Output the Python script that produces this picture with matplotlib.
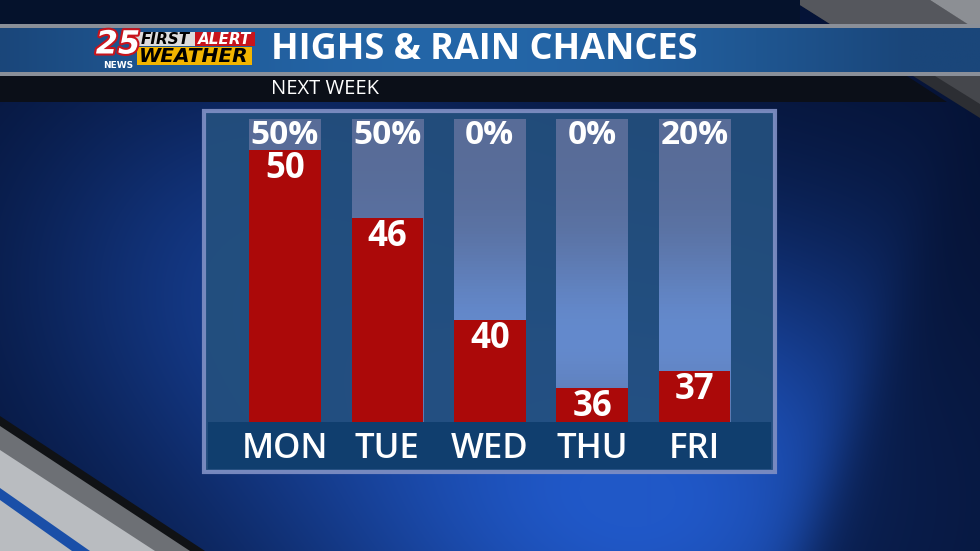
import matplotlib
matplotlib.use("Agg")
import matplotlib.pyplot as plt
import matplotlib.patches as mpatches
import matplotlib.patheffects as pe
import numpy as np

# chart data
days = ["MON", "TUE", "WED", "THU", "FRI"]
highs = [50, 46, 40, 36, 37]
rain = ["50%", "50%", "0%", "0%", "20%"]

title = "HIGHS & RAIN CHANCES"
subtitle = "NEXT WEEK"

W, H = 980, 551
fig = plt.figure(figsize=(W / 100, H / 100), dpi=100)

# ---- background layer in pixel coords ----
bg = fig.add_axes([0, 0, 1, 1])
bg.set_xlim(0, W)
bg.set_ylim(H, 0)
bg.axis("off")

yy, xx = np.mgrid[0:H, 0:W]
glow = np.exp(-((xx - 640) / 360.0) ** 2 - ((yy - 500) / 260.0) ** 2)
glow += 0.45 * np.exp(-((xx - 250) / 260.0) ** 2 - ((yy - 260) / 220.0) ** 2)
# dark wedge on the right
edge = 1 / (1 + np.exp(-((xx + 0.35 * yy) - 1000) / 18.0))
glow = glow * (1 - 0.75 * edge)
glow = np.clip(glow, 0, 1)
dark = np.array([5, 18, 52]) / 255
bright = np.array([32, 88, 200]) / 255
img = dark[None, None, :] + glow[:, :, None] * (bright - dark)[None, None, :]
bg.imshow(img, extent=(0, W, H, 0), aspect="auto", zorder=0)

# top right grey swoosh (diagonal bands)
bg.add_patch(mpatches.Polygon([(792, 0), (980, 0), (980, 118)],
                              closed=True, fc="#2c2e33", ec="none", zorder=1))
bg.add_patch(mpatches.Polygon([(792, 0), (930, 0), (968, 24), (830, 24)],
                              closed=True, fc="#55575d", ec="none", zorder=1))
bg.add_patch(mpatches.Polygon([(930, 0), (980, 0), (980, 32)],
                              closed=True, fc="#8c8f94", ec="none", zorder=1))
bg.add_patch(mpatches.Polygon([(935, 76), (980, 76), (980, 104)],
                              closed=True, fc="#45474c", ec="none", zorder=3))

# bottom left grey swoosh
bg.add_patch(mpatches.Polygon([(0, 416), (0, 551), (205, 551)],
                              closed=True, fc="#101215", ec="none", zorder=1))
bg.add_patch(mpatches.Polygon([(0, 426), (0, 551), (190, 551)],
                              closed=True, fc="#6d7075", ec="none", zorder=1))
bg.add_patch(mpatches.Polygon([(0, 450), (0, 551), (155, 551)],
                              closed=True, fc="#b9bcc0", ec="none", zorder=1))
bg.add_patch(mpatches.Polygon([(0, 488), (0, 500), (72, 551), (90, 551)],
                              closed=True, fc="#1a4fa8", ec="none", zorder=1))

# header bands
bg.add_patch(mpatches.Rectangle((0, 0), 800, 24, fc="#05122c", ec="none", zorder=2))
bg.add_patch(mpatches.Rectangle((0, 24), W, 4, fc="#8a8f98", ec="none", zorder=2))
hdr = np.linspace(0, 1, 400)
c_l = np.array([26, 70, 122]) / 255
c_m = np.array([36, 102, 168]) / 255
hdr_col = c_l + np.sin(np.pi * np.clip(hdr * 1.08, 0, 1))[:, None] * (c_m - c_l)[None, :]
bg.imshow(hdr_col[None, :, :], extent=(0, W, 72, 28), aspect="auto", zorder=2)
bg.add_patch(mpatches.Rectangle((0, 72), W, 4, fc="#8a8f98", ec="none", zorder=3))
bg.add_patch(mpatches.Polygon([(0, 76), (907, 76), (947, 102), (0, 102)],
                              closed=True, fc="#0b0f18", ec="none", zorder=2))

# logo
bg.add_patch(mpatches.Rectangle((135, 32), 60, 14, fc="#dcdcdc", ec="none", zorder=4))
bg.add_patch(mpatches.Rectangle((195, 32), 60, 14, fc="#c8141c", ec="none", zorder=4))
bg.add_patch(mpatches.Rectangle((137, 47), 115, 18, fc="#f2b400", ec="none", zorder=4))
bg.text(118, 45, "25", color="white", fontsize=23, fontweight="bold", style="italic",
        family="DejaVu Sans", ha="center", va="center", zorder=5,
        path_effects=[pe.withStroke(linewidth=3, foreground="#c8141c")])
bg.text(118, 66, "NEWS", color="white", fontsize=6.5, fontweight="bold", family="DejaVu Sans",
        ha="center", va="center", zorder=5)
bg.text(165, 39.5, "FIRST", color="black", fontsize=11, fontweight="bold", style="italic",
        family="DejaVu Sans", ha="center", va="center", zorder=5)
bg.text(225, 39.5, "ALERT", color="white", fontsize=11, fontweight="bold", style="italic",
        family="DejaVu Sans", ha="center", va="center", zorder=5)
bg.text(194, 56.5, "WEATHER", color="black", fontsize=14.5, fontweight="bold", style="italic",
        family="DejaVu Sans", ha="center", va="center", zorder=5)

bg.text(271, 50, title, color="white", fontsize=26, fontweight="bold", family="Open Sans",
        ha="left", va="center", zorder=5)
bg.text(271, 89, subtitle, color="white", fontsize=14.5, family="Open Sans",
        ha="left", va="center", zorder=5)

# panel frame
bg.add_patch(mpatches.Rectangle((204, 111), 571, 361, fc="#24507e", ec="#7f8fc4", lw=3,
                                alpha=0.92, zorder=4))

# ---- bar chart axes ----
ax = fig.add_axes([203 / W, (H - 472) / H, 572 / W, 362 / H])
ax.set_xlim(-0.80, 4.785)
ax.set_ylim(31.06, 52.35)
ax.axis("off")
ax.patch.set_alpha(0)

base = 34
top = 51.8
x = np.arange(len(days))

# label strip
ax.add_patch(mpatches.Rectangle((-0.752, 31.24), 5.498, base - 31.24, fc="#103e6e", ec="none", zorder=1))

# background columns with a soft vertical gradient
col = np.linspace(0, 1, 100)[:, None]
c_top = np.array([88, 108, 152]) / 255
c_bot = np.array([100, 138, 205]) / 255
grad = c_top + (np.exp(-((col - 0.72) / 0.3) ** 2))[:, :, None] * (c_bot - c_top)
for i in x:
    ax.imshow(grad, extent=(i - 0.35, i + 0.35, base, top), aspect="auto", zorder=2)

ax.bar(x, [h - base for h in highs], bottom=base, width=0.70, color="#ab0909", zorder=3)

for i in x:
    ax.text(i, 50.85, rain[i], color="white", fontsize=24, fontweight="bold", family="Open Sans",
            ha="center", va="center", zorder=4)
    ax.annotate(str(highs[i]), (i, highs[i]), xytext=(0, -14), textcoords="offset points",
                color="white", fontsize=25, fontweight="bold", family="Open Sans",
                ha="center", va="center", zorder=4)
    ax.text(i, 32.4, days[i], color="white", fontsize=25, fontweight="semibold", family="Open Sans",
            ha="center", va="center", zorder=4)

fig.savefig("out.png", dpi=100)
